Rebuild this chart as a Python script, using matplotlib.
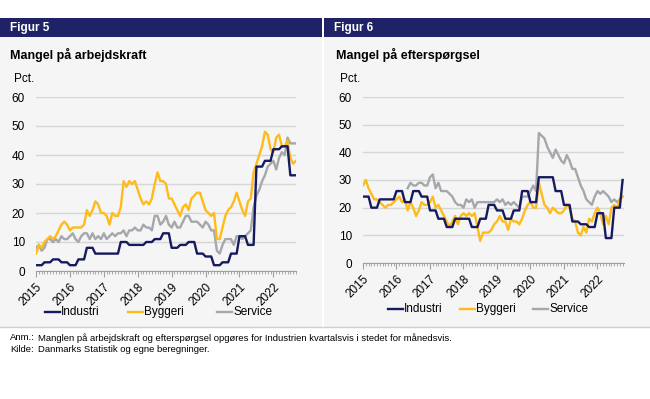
import numpy as np
import matplotlib.pyplot as plt
from matplotlib.patches import Rectangle

plt.rcParams['font.family'] = ['Liberation Sans', 'DejaVu Sans']

# månedlige data, jan 2015 og frem
years = ['2015', '2016', '2017', '2018', '2019', '2020', '2021', '2022']

# Figur 5: Mangel på arbejdskraft (Industri kvartalsvis)
arb_industri_q = [2, 3, 4, 3, 2, 4, 8, 6, 6, 6, 10, 9, 9, 10, 11, 13,
                  8, 9, 10, 6, 5, 2, 3, 6, 12, 9, 36, 38, 42, 43, 33]
arb_byggeri = [6, 9, 8, 10, 11, 12, 11, 12, 14, 16, 17, 16, 14, 15, 15, 15,
               15, 16, 21, 19, 21, 24, 23, 20, 20, 19, 16, 20, 19, 19, 22, 31,
               29, 31, 30, 31, 28, 25, 23, 24, 23, 25, 30, 34, 31, 31, 30, 25,
               25, 23, 21, 19, 22, 23, 21, 25, 26, 27, 27, 24, 21, 20, 19, 20,
               11, 11, 15, 19, 21, 22, 24, 27, 24, 21, 19, 24, 25, 34, 37, 40,
               43, 48, 47, 42, 41, 46, 47, 43, 43, 45, 39, 37, 38]
arb_service = [8, 9, 7, 8, 11, 11, 10, 11, 10, 12, 11, 11, 12, 13, 11, 10,
               12, 13, 13, 11, 13, 11, 12, 11, 13, 11, 12, 13, 12, 13, 13, 14,
               12, 14, 14, 15, 14, 14, 16, 15, 15, 14, 19, 19, 16, 17, 19, 16,
               15, 17, 15, 15, 17, 19, 19, 17, 17, 17, 16, 15, 17, 16, 14, 14,
               7, 6, 9, 11, 11, 11, 9, 12, 12, 11, 12, 13, 14, 22, 26, 28,
               31, 33, 36, 37, 38, 35, 39, 41, 40, 46, 44, 44, 44]

# Figur 6: Mangel på efterspørgsel
eft_industri_q = [24, 20, 23, 23, 26, 22, 26, 24, 19, 16, 13, 16, 16, 13, 16, 21,
                  19, 16, 19, 26, 22, 31, 31, 26, 21, 15, 14, 13, 18, 9, 20]
eft_industri_last = [30]
eft_byggeri = [28, 30, 27, 25, 23, 23, 22, 21, 20, 21, 21, 22, 23, 24, 22, 23,
               19, 22, 20, 17, 19, 22, 21, 21, 22, 24, 20, 21, 19, 17, 15, 13,
               15, 17, 14, 17, 18, 17, 18, 17, 18, 13, 8, 11, 11, 11, 12, 14,
               15, 17, 15, 15, 12, 16, 15, 15, 14, 16, 19, 21, 22, 20, 20, 29,
               25, 21, 20, 18, 20, 19, 18, 18, 19, 21, 20, 16, 15, 11, 10, 13,
               11, 16, 15, 18, 20, 18, 14, 17, 14, 20, 21, 20, 23, 24]
eft_service = [np.nan] * 16 + [
               27, 29, 28, 28, 29, 29, 28, 28, 31, 32, 27, 29, 26, 26, 26, 25,
               24, 22, 21, 21, 20, 23, 22, 23, 20, 22, 22, 22, 22, 22, 22, 22,
               23, 22, 23, 21, 22, 21, 22, 21, 20, 24, 24, 24, 26, 28, 26, 47,
               46, 45, 42, 40, 38, 41, 39, 37, 36, 39, 37, 34, 34, 31, 28, 26,
               23, 22, 21, 24, 26, 25, 26, 25, 24, 22, 23, 22, 23, 24]

arb_industri = np.repeat(arb_industri_q, 3)
eft_industri = np.concatenate([np.repeat(eft_industri_q, 3), eft_industri_last])

navy = '#161a5e'
gold = '#fdbb1c'
grey = '#a4a7ab'
header = '#1f2266'
panel_bg = '#f5f5f5'

fig = plt.figure(figsize=(6.5, 3.99), dpi=100)
fig.patch.set_facecolor('white')

W, H = 650, 399


def px(x0, y0, w, h):
    return [x0 / W, 1 - (y0 + h) / H, w / W, h / H]


# baggrund og overskriftsbjælker
for x0, w, fig_lbl in [(0, 322, 'Figur 5'), (324, 326, 'Figur 6')]:
    fig.add_artist(Rectangle((x0 / W, 1 - 327 / H), w / W, (327 - 18) / H,
                             transform=fig.transFigure, facecolor=panel_bg,
                             edgecolor='none', zorder=0))
    fig.add_artist(Rectangle((x0 / W, 1 - 37 / H), w / W, 19 / H,
                             transform=fig.transFigure, facecolor=header,
                             edgecolor='none', zorder=1))
    fig.text((x0 + 10) / W, 1 - 28 / H, fig_lbl, color='white', fontsize=8.5,
             fontweight='bold', va='center')
fig.add_artist(plt.Line2D([0, 1], [1 - 327 / H, 1 - 327 / H], transform=fig.transFigure,
                          color='#cfcfcf', lw=1, zorder=1))

panels = [
    dict(rect=px(36, 97, 260, 174), xmax=92, title='Mangel på arbejdskraft',
         tx=10, series=(arb_industri, arb_byggeri, arb_service),
         leg_x=(45, 128, 217), leg_y=312),
    dict(rect=px(363, 97, 261, 166), xmax=93.5, title='Mangel på efterspørgsel',
         tx=336, series=(eft_industri, eft_byggeri, eft_service),
         leg_x=(388, 460, 533), leg_y=309),
]

names = ['Industri', 'Byggeri', 'Service']
colors = [navy, gold, grey]

for p in panels:
    ax = fig.add_axes(p['rect'])
    ax.set_facecolor(panel_bg)
    # tegn: service, byggeri, industri (industri øverst)
    for k in [2, 1, 0]:
        s = np.asarray(p['series'][k], dtype=float)
        ax.plot(np.arange(len(s)), s, color=colors[k], lw=1.7, zorder=3 + (2 - k))
    ax.set_ylim(0, 60)
    ax.set_xlim(0, p['xmax'])
    ax.set_yticks(range(0, 61, 10))
    ax.grid(axis='y', color='#d6d6d6', lw=1)
    ax.set_axisbelow(True)
    ax.set_xticks(np.arange(0, 85, 12))
    ax.set_xticklabels(years, rotation=45, ha='right', rotation_mode='anchor', fontsize=8.5)
    ax.set_xticks(np.arange(0, p['xmax'] + 0.1, 1), minor=True)
    ax.tick_params(axis='y', length=0, labelsize=8.5, pad=8)
    ax.tick_params(axis='x', which='major', length=4, color='#a0a0a0', pad=3)
    ax.tick_params(axis='x', which='minor', length=2, color='#a0a0a0')
    for sp in ['top', 'right', 'left']:
        ax.spines[sp].set_visible(False)
    ax.spines['bottom'].set_color('#a0a0a0')
    ax.spines['bottom'].set_zorder(6)

    fig.text(p['tx'] / W, 1 - 55 / H, p['title'], fontsize=9, fontweight='bold',
             va='center')
    fig.text((p['tx'] + 4) / W, 1 - 79 / H, 'Pct.', fontsize=8.5, va='center')

    # forklaring
    for k in range(3):
        x0 = p['leg_x'][k]
        yy = 1 - p['leg_y'] / H
        fig.add_artist(plt.Line2D([x0 / W, (x0 + 15) / W], [yy, yy],
                                  transform=fig.transFigure, color=colors[k], lw=1.7))
        fig.text((x0 + 16) / W, yy, names[k], fontsize=8.5, va='center')

fig.text(10 / W, 1 - 338 / H, 'Anm.:', fontsize=6.8, va='center')
fig.text(38 / W, 1 - 338 / H,
         'Manglen på arbejdskraft og efterspørgsel opgøres for Industrien kvartalsvis i stedet for månedsvis.',
         fontsize=6.8, va='center')
fig.text(10 / W, 1 - 350 / H, 'Kilde:', fontsize=6.8, va='center')
fig.text(38 / W, 1 - 350 / H, 'Danmarks Statistik og egne beregninger.',
         fontsize=6.8, va='center')

fig.savefig('out.png', dpi=100, facecolor='white')
